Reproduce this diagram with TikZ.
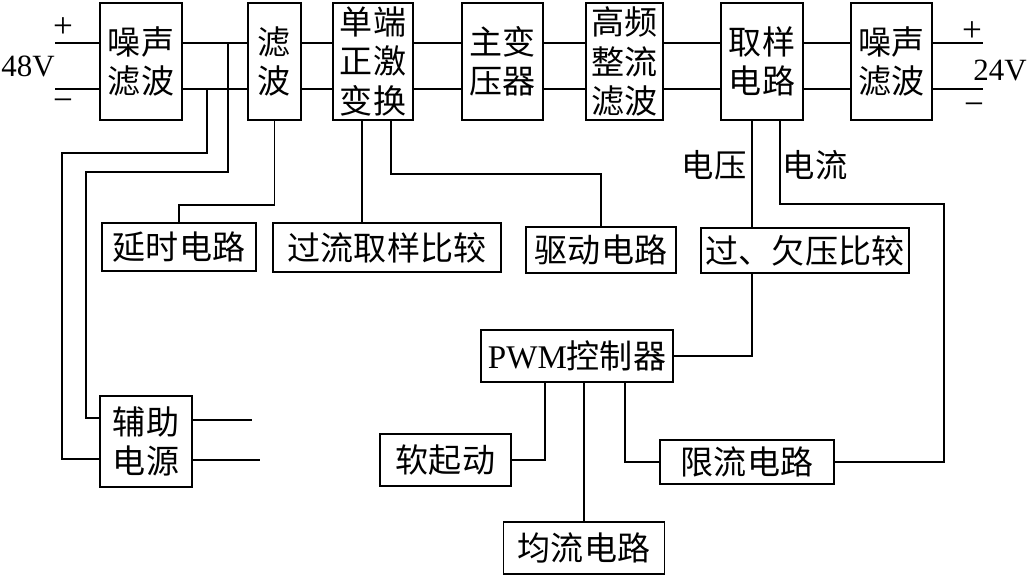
\documentclass[tikz,border=0pt]{standalone}
\usepackage{fontspec}
\setmainfont{Liberation Serif}
\newfontfamily\cjk{Noto Sans CJK SC}

\begin{document}
\begin{tikzpicture}[x=0.025cm, y=-0.025cm]
    \tikzstyle{blk} = [rectangle, draw, line width=1.3pt, inner sep=0pt,
                       align=center, font=\fontsize{23.5}{28}\cjk]
    \tikzstyle{wire} = [line width=1.3pt]
    \tikzstyle{tag} = [inner sep=0pt, font=\fontsize{23}{28}\cjk]
    \tikzstyle{volt} = [inner sep=0pt, font=\fontsize{22}{24}\selectfont]
    \tikzstyle{pol} = [inner sep=0pt, font=\fontsize{25}{27}\selectfont]

    \useasboundingbox (0,0) rectangle (1029,577);

    % main power path
    \node (nfa)  [blk, minimum width=2.05cm,  minimum height=2.925cm] at (141,61.5)  {噪声\\滤波};
    \node (flt)  [blk, minimum width=1.325cm, minimum height=2.925cm] at (274.5,61.5) {滤\\波};
    \node (fwd)  [blk, minimum width=2.0cm,   minimum height=2.925cm] at (373,61.5)  {单端\\正激\\变换};
    \node (tr)   [blk, minimum width=2.025cm, minimum height=2.925cm] at (502.5,61.5) {主变\\压器};
    \node (rect) [blk, minimum width=1.925cm, minimum height=2.925cm] at (624.5,61.5) {高频\\整流\\滤波};
    \node (smp)  [blk, minimum width=2.05cm,  minimum height=2.925cm] at (762,61.5)  {取样\\电路};
    \node (nfb)  [blk, minimum width=2.025cm, minimum height=2.925cm] at (891.5,61.5) {噪声\\滤波};

    % control blocks
    \node (dly)  [blk, minimum width=3.85cm,  minimum height=1.2cm]   at (179,247)   {延时电路};
    \node (ocp)  [blk, minimum width=5.7cm,   minimum height=1.225cm] at (387,247.5) {过流取样比较};
    \node (drv)  [blk, minimum width=3.75cm,  minimum height=1.15cm]  at (601,250)   {驱动电路};
    \node (ouv)  [blk, minimum width=5.2cm,   minimum height=1.125cm] at (805,250.5) {过、欠压比较};
    \node (pwm)  [blk, minimum width=4.8cm,   minimum height=1.3cm]   at (577,356)   {{\rmfamily PWM}控制器};
    \node (aux)  [blk, minimum width=2.3cm,   minimum height=2.275cm] at (146,441.5) {辅助\\电源};
    \node (soft) [blk, minimum width=3.275cm, minimum height=1.3cm]   at (445.5,460) {软起动};
    \node (lim)  [blk, minimum width=4.35cm,  minimum height=1.1cm]   at (747,462)   {限流电路};
    \node (shr)  [blk, minimum width=4.025cm, minimum height=1.3cm]   at (584,548)   {均流电路};

    % terminals and labels
    \node (vin)  [volt] at (28,66)   {48V};
    \node (vout) [volt] at (1000,70) {24V};
    \node (ipl)  [pol]  at (63,28)   {+};
    \node (imi)  [pol]  at (63,105)  {\textminus};
    \node (opl)  [pol]  at (972,32)  {+};
    \node (omi)  [pol]  at (974,109) {\textminus};
    \node (vlab) [tag]  at (714,165) {电压};
    \node (ilab) [tag]  at (815,165) {电流};

    \coordinate (hi)   at (0,43);
    \coordinate (lo)   at (0,89);
    \coordinate (inp)  at (55,43);
    \coordinate (inm)  at (55,89);
    \coordinate (outp) at (983,43);
    \coordinate (outm) at (983,89);
    \coordinate (ja)   at (228,43);
    \coordinate (ka)   at (86,172);
    \coordinate (jb)   at (207,89);
    \coordinate (kb)   at (62,153);
    \coordinate (aoa)  at (252,420);
    \coordinate (aob)  at (260,460);
    \coordinate (kc)   at (179,205);
    \coordinate (kd)   at (601,174);
    \coordinate (ke)   at (944,204);

    % power lines
    \draw [wire] (inp) -- (nfa.west |- hi);
    \draw [wire] (inm) -- (nfa.west |- lo);
    \draw [wire] (nfa.east |- hi) -- (flt.west |- hi);
    \draw [wire] (nfa.east |- lo) -- (flt.west |- lo);
    \draw [wire] (flt.east |- hi) -- (fwd.west |- hi);
    \draw [wire] (flt.east |- lo) -- (fwd.west |- lo);
    \draw [wire] (fwd.east |- hi) -- (tr.west |- hi);
    \draw [wire] (fwd.east |- lo) -- (tr.west |- lo);
    \draw [wire] (tr.east |- hi) -- (rect.west |- hi);
    \draw [wire] (tr.east |- lo) -- (rect.west |- lo);
    \draw [wire] (rect.east |- hi) -- (smp.west |- hi);
    \draw [wire] (rect.east |- lo) -- (smp.west |- lo);
    \draw [wire] (smp.east |- hi) -- (nfb.west |- hi);
    \draw [wire] (smp.east |- lo) -- (nfb.west |- lo);
    \draw [wire] (nfb.east |- hi) -- (outp);
    \draw [wire] (nfb.east |- lo) -- (outm);

    % auxiliary supply
    \draw [wire] (ja) |- (ka) |- ([yshift=0.59cm]aux.west);
    \draw [wire] (jb) |- (kb) |- ([yshift=-0.44cm]aux.west);
    \draw [wire] (aux.east |- aoa) -- (aoa);
    \draw [wire] (aux.east |- aob) -- (aob);

    % control lines
    \draw [wire] (flt.south) |- (kc) -- (dly.north);
    \draw [wire] ([xshift=-0.275cm]fwd.south) -- ([xshift=-0.275cm]fwd.south |- ocp.north);
    \draw [wire] ([xshift=0.45cm]fwd.south) |- (kd) -- (drv.north);
    \draw [wire] ([xshift=-0.25cm]smp.south) -- ([xshift=-0.25cm]smp.south |- ouv.north);
    \draw [wire] ([xshift=-0.25cm]smp.south |- ouv.south) |- (pwm.east);
    \draw [wire] ([xshift=0.45cm]smp.south) |- (ke) |- (lim.east);
    \draw [wire] ([xshift=-0.8cm]pwm.south) |- (soft.east);
    \draw [wire] (pwm.south -| shr.north) -- (shr.north);
    \draw [wire] ([xshift=1.2cm]pwm.south) |- (lim.west);
\end{tikzpicture}
\end{document}
